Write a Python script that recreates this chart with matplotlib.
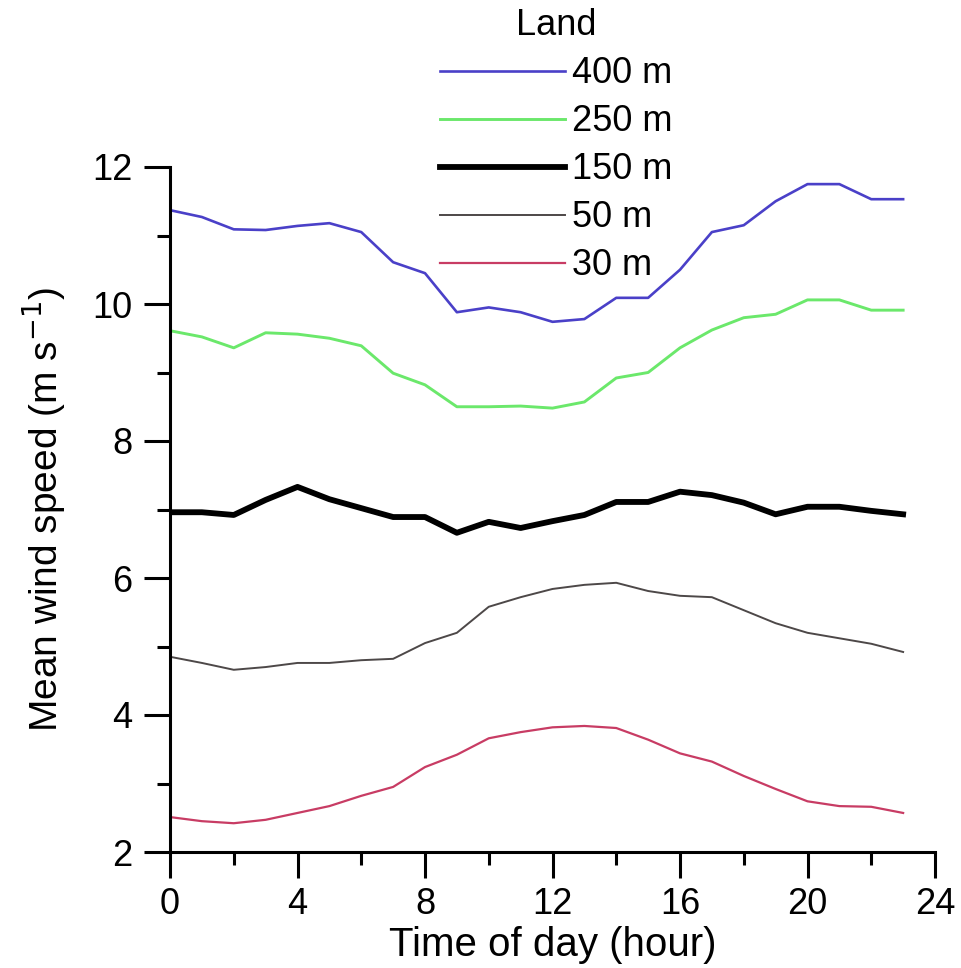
import matplotlib
matplotlib.use("Agg")
import matplotlib.pyplot as plt
from matplotlib.ticker import MultipleLocator

plt.rcParams['font.family'] = ['Liberation Sans', 'DejaVu Sans']

hours = list(range(24))
h400 = [11.37, 11.27, 11.09, 11.08, 11.14, 11.18, 11.05, 10.61, 10.45, 9.88, 9.95, 9.88,
        9.74, 9.78, 10.09, 10.09, 10.50, 11.05, 11.15, 11.50, 11.75, 11.75, 11.53, 11.53]
h250 = [9.61, 9.52, 9.36, 9.58, 9.56, 9.50, 9.39, 8.99, 8.82, 8.50, 8.50, 8.51,
        8.48, 8.57, 8.92, 9.00, 9.36, 9.62, 9.80, 9.85, 10.06, 10.06, 9.91, 9.91]
h150 = [6.96, 6.96, 6.92, 7.14, 7.33, 7.15, 7.02, 6.89, 6.89, 6.66, 6.82, 6.73,
        6.83, 6.92, 7.11, 7.11, 7.26, 7.21, 7.10, 6.93, 7.04, 7.04, 6.98, 6.93]
h50 = [4.85, 4.76, 4.66, 4.70, 4.76, 4.76, 4.80, 4.82, 5.05, 5.20, 5.58, 5.72,
       5.84, 5.90, 5.93, 5.81, 5.74, 5.72, 5.53, 5.34, 5.20, 5.12, 5.04, 4.92]
h30 = [2.51, 2.45, 2.42, 2.47, 2.57, 2.67, 2.82, 2.95, 3.24, 3.42, 3.66, 3.75,
       3.82, 3.84, 3.81, 3.64, 3.44, 3.32, 3.11, 2.92, 2.74, 2.67, 2.66, 2.57]

series = [
    ("400 m", h400, "#4a40c8", 1.9),
    ("250 m", h250, "#6be86b", 2.1),
    ("150 m", h150, "#000000", 4.2),
    ("50 m", h50, "#4d4848", 1.4),
    ("30 m", h30, "#c83c64", 1.6),
]

fig = plt.figure(figsize=(9.61, 9.68), dpi=100)
ax = fig.add_axes([170/961, 1-852/968, (935-170)/961, (852-167)/968])

for label, vals, color, lw in series:
    ax.plot(hours, vals, color=color, lw=lw, label=label)

ax.set_xlim(0, 24)
ax.set_ylim(2, 12)
ax.xaxis.set_major_locator(MultipleLocator(4))
ax.xaxis.set_minor_locator(MultipleLocator(2))
ax.yaxis.set_major_locator(MultipleLocator(2))
ax.yaxis.set_minor_locator(MultipleLocator(1))
for s in ['top', 'right']:
    ax.spines[s].set_visible(False)
for s in ['left', 'bottom']:
    ax.spines[s].set_linewidth(2.2)
ax.tick_params(which='major', direction='out', length=19, width=2.2, labelsize=26)
ax.tick_params(which='minor', direction='out', length=9.5, width=2.2)
ax.tick_params(axis='x', which='major', pad=6)
ax.tick_params(axis='y', which='major', pad=8)

ax.set_xlabel("Time of day (hour)", fontsize=29)
ax.set_ylabel("Mean wind speed (m s$^{-1}$)", fontsize=28)
ax.xaxis.set_label_coords(0.5, -0.108)
ax.yaxis.set_label_coords(-0.135, 0.5)

leg = ax.legend(title="Land", loc='upper left',
                bbox_to_anchor=(433/961, 1 - 1/968), bbox_transform=fig.transFigure,
                frameon=False, fontsize=26, title_fontsize=26,
                handlelength=3.46, handletextpad=0.2, labelspacing=0.36,
                borderpad=0.2, borderaxespad=0)

fig.savefig("out.png", dpi=100)
